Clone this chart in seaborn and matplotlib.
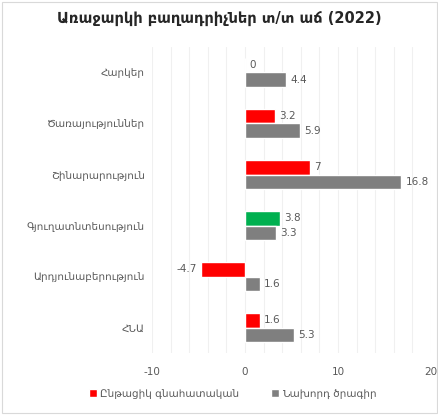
import pandas as pd
import numpy as np
import seaborn as sns
import matplotlib.pyplot as plt
from matplotlib.patches import Rectangle

sns.set_style('white')
plt.rcParams['font.family'] = ['DejaVu Sans', 'Noto Sans']
plt.rcParams['axes.unicode_minus'] = False

categories = ['Հարկեր', 'Ծառայություններ', 'Շինարարություն',
              'Գյուղատնտեսություն', 'Արդյունաբերություն', 'ՀՆԱ']
current = [0, 3.2, 7, 3.8, -4.7, 1.6]
previous = [4.4, 5.9, 16.8, 3.3, 1.6, 5.3]
series = ['Ընթացիկ գնահատական', 'Նախորդ ծրագիր']
xticks = [-10, 0, 10, 20]

df = pd.DataFrame({
    'cat': categories * 2,
    'val': current + previous,
    'series': [series[0]] * len(categories) + [series[1]] * len(categories),
})

fig = plt.figure(figsize=(4.39, 4.15), dpi=100)
ax = fig.add_axes([0.346, 0.149, 0.636, 0.738])

sns.barplot(data=df, y='cat', x='val', hue='series', hue_order=series,
            order=categories, orient='h', palette=['#FF0000', '#7F7F7F'],
            width=0.58, saturation=1, ax=ax, errorbar=None)

# agriculture current estimate shown in green
ax.containers[0][3].set_facecolor('#00B050')

for cont in ax.containers:
    labels = [f'{v:g}' for v in cont.datavalues]
    ax.bar_label(cont, labels=labels, padding=3, fontsize=7.5, color='#595959')

ax.set_xlim(-10, 20)
ax.set_xticks(xticks)
ax.set_xticks(np.arange(-10, 21, 2), minor=True)
ax.grid(axis='x', which='both', color='#F0F0F0', lw=0.8)
ax.set_axisbelow(True)
ax.tick_params(axis='both', length=0, labelsize=7.5, labelcolor='#595959')
ax.tick_params(axis='x', pad=10)
ax.tick_params(axis='y', pad=5)
ax.set_xlabel('')
ax.set_ylabel('')
sns.despine(ax=ax, left=True, bottom=True)

handles, labels = ax.get_legend_handles_labels()
ax.legend(handles, labels, loc='upper center', ncol=2, frameon=False,
          fontsize=7.5, handlelength=0.8, handleheight=0.8,
          handletextpad=0.3, columnspacing=3, labelcolor='#595959')
leg = ax.get_legend()
leg.set_bbox_to_anchor((0.53, 0.085), transform=fig.transFigure)

fig.text(0.5, 0.955, 'Առաջարկի բաղադրիչներ տ/տ աճ (2022)', ha='center', va='center',
         fontsize=10.5, fontweight='bold', color='#262626')
fig.patches.append(Rectangle((0.005, 0.005), 0.99, 0.99, transform=fig.transFigure,
                             fill=False, edgecolor='#D9D9D9', lw=0.8))

fig.savefig('out.png', dpi=100)
